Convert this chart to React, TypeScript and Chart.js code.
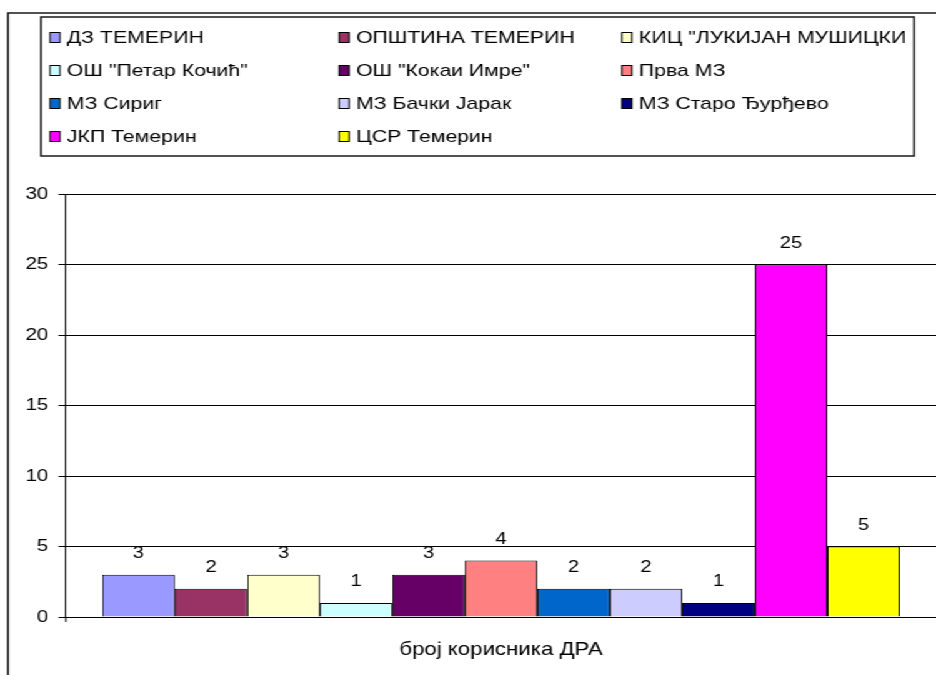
import React, { useEffect, useRef } from "react";
import { Chart, registerables } from "chart.js";

Chart.register(...registerables);

// ---- data ----
const categories: string[] = ["број корисника ДРА"];
const seriesNames: string[] = [
  "ДЗ ТЕМЕРИН",
  "ОПШТИНА ТЕМЕРИН",
  "КИЦ \"ЛУКИЈАН МУШИЦКИ",
  "ОШ \"Петар Кочић\"",
  "ОШ \"Кокаи Имре\"",
  "Прва МЗ",
  "МЗ Сириг",
  "МЗ Бачки Јарак",
  "МЗ Старо Ђурђево",
  "ЈКП Темерин",
  "ЦСР Темерин",
];
const seriesValues: number[] = [3, 2, 3, 1, 3, 4, 2, 2, 1, 25, 5];
const seriesColors: string[] = [
  "#9999FF",
  "#993366",
  "#FFFFCC",
  "#CCFFFF",
  "#660066",
  "#FF8080",
  "#0066CC",
  "#CCCCFF",
  "#000080",
  "#FF00FF",
  "#FFFF00",
];
const yMin = 0;
const yMax = 30;
const yStep = 5;

// ---- layout (canvas is drawn narrow and stretched horizontally) ----
const CW = 749;
const CH = 675;
const STRETCH = 936 / CW;
const FONT = "'Liberation Sans', Arial, Helvetica, sans-serif";

export default function App() {
  const ref = useRef<HTMLCanvasElement>(null);

  useEffect(() => {
    const canvas = ref.current;
    if (!canvas) return;

    const framePlugin = {
      id: "framePlugin",
      beforeDraw(chart: any) {
        const ctx = chart.ctx as CanvasRenderingContext2D;
        ctx.save();
        ctx.fillStyle = "#ffffff";
        ctx.fillRect(0, 0, CW, CH);
        // outer border (top + left visible)
        ctx.strokeStyle = "#1a1a1a";
        ctx.lineWidth = 1.5;
        ctx.beginPath();
        ctx.moveTo(6.4, CH);
        ctx.lineTo(6.4, 13);
        ctx.lineTo(CW, 13);
        ctx.stroke();
        // legend box
        const lx = 32.8, ly = 17, lw = 731.4 - 32.8, lh = 156 - 17;
        ctx.lineWidth = 1.5;
        ctx.strokeRect(lx, ly, lw, lh);
        // legend items
        const colX = [40, 271.3, 497.7];
        ctx.font = `17px ${FONT}`;
        ctx.textBaseline = "middle";
        ctx.textAlign = "left";
        seriesNames.forEach((name, i) => {
          const col = i % 3;
          const row = Math.floor(i / 3);
          const mx = colX[col];
          const cy = 37.5 + row * 33;
          ctx.fillStyle = seriesColors[i];
          ctx.fillRect(mx, cy - 5, 8, 10);
          ctx.strokeStyle = "#000";
          ctx.lineWidth = 1;
          ctx.strokeRect(mx, cy - 5, 8, 10);
          ctx.fillStyle = "#000";
          ctx.fillText(name, mx + 13.6, cy + 1);
        });
        ctx.restore();
      },
      afterDatasetsDraw(chart: any) {
        const ctx = chart.ctx as CanvasRenderingContext2D;
        ctx.save();
        ctx.font = `16px ${FONT}`;
        ctx.fillStyle = "#000";
        ctx.textAlign = "center";
        ctx.textBaseline = "middle";
        chart.data.datasets.forEach((ds: any, i: number) => {
          const meta = chart.getDatasetMeta(i);
          meta.data.forEach((el: any, j: number) => {
            ctx.fillText(String(ds.data[j]), el.x, el.y - 21);
          });
        });
        // small tick below the axis crossing
        const a = chart.chartArea;
        ctx.strokeStyle = "#000";
        ctx.lineWidth = 1;
        ctx.beginPath();
        ctx.moveTo(a.left, a.bottom);
        ctx.lineTo(a.left, a.bottom + 5);
        ctx.stroke();
        ctx.restore();
      },
    };

    const chart = new Chart(canvas, {
      type: "bar",
      data: {
        labels: categories,
        datasets: seriesNames.map((name, i) => ({
          label: name,
          data: [seriesValues[i]],
          backgroundColor: seriesColors[i],
          borderColor: "#000",
          borderWidth: 1,
          categoryPercentage: 11 / 12,
          barPercentage: 1,
        })),
      },
      options: {
        animation: false,
        responsive: false,
        maintainAspectRatio: false,
        devicePixelRatio: 1,
        layout: { padding: { top: 194, left: 0, right: 0, bottom: 0 } },
        plugins: {
          legend: { display: false },
          tooltip: { enabled: false },
        },
        scales: {
          x: {
            grid: { display: false, drawTicks: false },
            border: { display: true, color: "#000", width: 1 },
            ticks: {
              color: "#000",
              font: { family: FONT, size: 17.8 },
              padding: 22,
              maxRotation: 0,
            },
            afterFit: (s: any) => {
              s.height = 58;
            },
          },
          y: {
            min: yMin,
            max: yMax,
            grid: {
              color: "#000",
              lineWidth: 1,
              tickLength: 6,
              tickColor: "#000",
            },
            border: { display: true, color: "#000", width: 1 },
            ticks: {
              stepSize: yStep,
              color: "#000",
              font: { family: FONT, size: 16.5 },
              padding: 8,
            },
            afterFit: (s: any) => {
              s.width = 52.8;
            },
          },
        },
      },
      plugins: [framePlugin],
    } as any);

    return () => chart.destroy();
  }, []);

  return (
    <div
      style={{
        position: "absolute",
        left: 0,
        top: 0,
        width: CW,
        height: CH,
        transform: `scaleX(${STRETCH})`,
        transformOrigin: "0 0",
        background: "#fff",
      }}
    >
      <canvas ref={ref} width={CW} height={CH} style={{ display: "block" }} />
    </div>
  );
}
